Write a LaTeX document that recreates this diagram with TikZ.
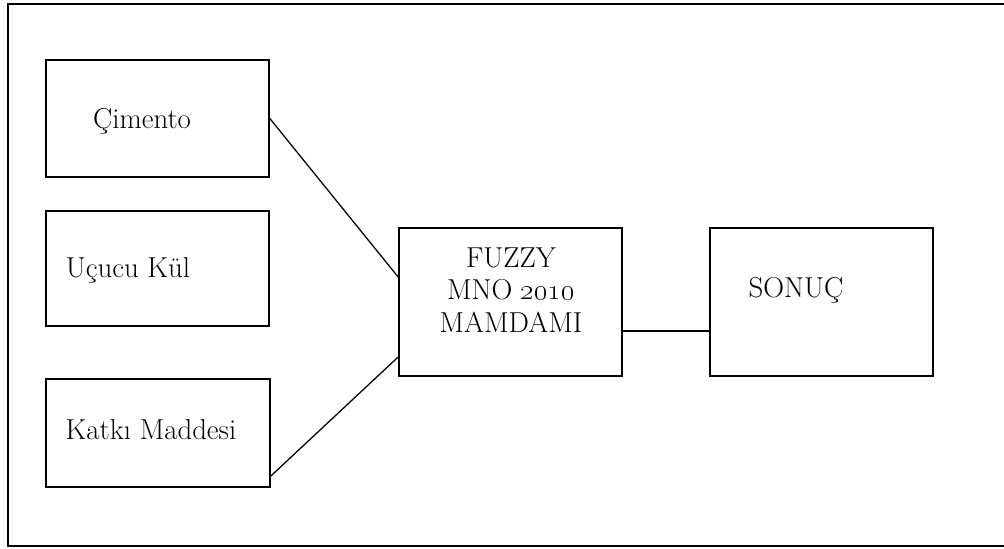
\documentclass[tikz,border=0pt]{standalone}
\usepackage{tikz}
\usetikzlibrary{calc}

\tikzset{
	blok/.style={draw, line width=1.2pt, inner sep=0pt, minimum width=#1},
	yazi/.style={font=\fontsize{20.5}{23.2}\selectfont, inner sep=0pt, align=center},
	hat/.style={line width=0.9pt}
}

\begin{document}
\begin{tikzpicture}[x=0.025cm, y=-0.025cm]
			%%%%% START %%%%%
			
			\useasboundingbox (0, 0) rectangle (1004, 548);
			\draw[line width=1.3pt] (1010, 4) -- (8, 4) -- (8, 546) -- (1010, 546);
			
			\node[blok=223*0.025cm, minimum height=117*0.025cm] (cimento) at (157.5, 118.5) {};
			\node[yazi] at (142, 121) {Çimento};
			
			\node[blok=223*0.025cm, minimum height=115*0.025cm] (ucucu) at (157.5, 268.5) {};
			\node[yazi] at (128, 270) {Uçucu Kül};
			
			\node[blok=224*0.025cm, minimum height=108*0.025cm] (katki) at (158, 433) {};
			\node[yazi] at (151, 430) {Katkı Maddesi};
			
			\node[blok=223*0.025cm, minimum height=148*0.025cm] (fuzzy) at (510.5, 302) {};
			\node[yazi] at (511, 290) {FUZZY\\MNO \oldstylenums{2010}\\MAMDAMI};
			
			\node[blok=223*0.025cm, minimum height=148*0.025cm] (sonuc) at (821.5, 302) {};
			\node[yazi] at (796, 290) {SONUÇ};
			
			\draw[hat] (cimento.east) -- ($(fuzzy.west)+(0, -25)$);
			\draw[hat] ($(katki.east)+(0, 43)$) -- ($(fuzzy.west)+(0, 55)$);
			\draw[hat] ($(fuzzy.east)+(0, 29)$) -- ($(sonuc.west)+(0, 29)$);
			
			%%%%% END %%%%%
\end{tikzpicture}
\end{document}
